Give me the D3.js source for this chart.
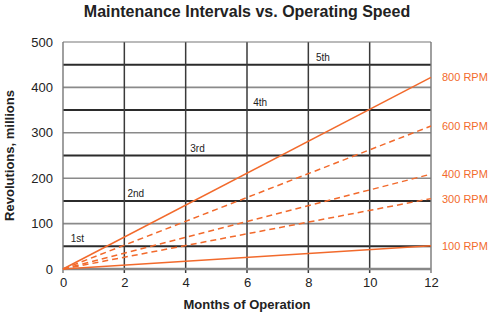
<!DOCTYPE html>
<html>
<head>
<meta charset="utf-8">
<script src="https://cdn.jsdelivr.net/npm/d3@7"></script>
<style>
  body { margin: 0; background: #fff; }
  text { font-family: "Liberation Sans", Arial, sans-serif; }
</style>
</head>
<body>
<div id="chart"></div>
<script>
// chart data
var speeds = ["100 RPM", "300 RPM", "400 RPM", "600 RPM", "800 RPM"];
var dashed = [false, true, true, true, false];
var revsAt12 = [51, 155, 209, 315, 422];   // millions of revolutions after 12 months
var xTicks = [0, 2, 4, 6, 8, 10, 12];
var yTicks = [0, 100, 200, 300, 400, 500];
var intervalLevels = [50, 150, 250, 350, 450];
var intervalNames = ["1st", "2nd", "3rd", "4th", "5th"];
var intervalLabelMonth = [0.25, 2.1, 4.15, 6.2, 8.25];

var svgWidth = 500;
var svgHeight = 322;
var margin = { top: 42, right: 69, bottom: 53, left: 63 };
var width = svgWidth - margin.left - margin.right;
var height = svgHeight - margin.top - margin.bottom;
var orange = "#f26a2c";

var svg = d3.select("#chart")
    .append("svg")
    .attr("width", svgWidth)
    .attr("height", svgHeight);

var chartGroup = svg.append("g")
    .attr("transform", `translate(${margin.left}, ${margin.top})`);

var x = d3.scaleLinear().domain([0, 12]).range([0, width]);
var y = d3.scaleLinear().domain([0, 500]).range([height, 0]);

// light horizontal grid at the hundreds
chartGroup.selectAll(".hgrid")
    .data([100, 200, 300, 400])
    .enter()
    .append("line")
    .attr("x1", 0).attr("x2", width)
    .attr("y1", d => y(d)).attr("y2", d => y(d))
    .attr("stroke", "#8a8a8a")
    .attr("stroke-width", 1.6);

// maintenance interval lines
chartGroup.selectAll(".interval")
    .data(intervalLevels)
    .enter()
    .append("line")
    .attr("x1", 0).attr("x2", width)
    .attr("y1", d => y(d)).attr("y2", d => y(d))
    .attr("stroke", "#2b2b2b")
    .attr("stroke-width", 2);

// vertical grid, extending a bit below the axis as ticks
chartGroup.selectAll(".vgrid")
    .data(xTicks.slice(1, -1))
    .enter()
    .append("line")
    .attr("x1", d => x(d)).attr("x2", d => x(d))
    .attr("y1", 0).attr("y2", height + 4)
    .attr("stroke", "#3a3a3a")
    .attr("stroke-width", 1.5);

// frame
chartGroup.append("line")
    .attr("x1", 0).attr("x2", width).attr("y1", y(500)).attr("y2", y(500))
    .attr("stroke", "#777").attr("stroke-width", 1.2);
chartGroup.append("line")
    .attr("x1", x(12)).attr("x2", x(12)).attr("y1", 0).attr("y2", height + 4)
    .attr("stroke", "#777").attr("stroke-width", 1.4);
chartGroup.append("line")
    .attr("x1", x(0)).attr("x2", x(0)).attr("y1", 0).attr("y2", height + 4)
    .attr("stroke", "#777").attr("stroke-width", 1.4);
chartGroup.append("line")
    .attr("x1", 0).attr("x2", width).attr("y1", y(0)).attr("y2", y(0))
    .attr("stroke", "#888").attr("stroke-width", 2.5);

// axes (labels only)
var bottomAxis = d3.axisBottom(x).tickValues(xTicks).tickSize(0).tickPadding(9);
var leftAxis = d3.axisLeft(y).tickValues(yTicks).tickSize(0).tickPadding(10);

var gx = chartGroup.append("g")
    .attr("transform", `translate(0, ${height})`)
    .call(bottomAxis);
var gy = chartGroup.append("g").call(leftAxis);
[gx, gy].forEach(function (g) {
    g.select(".domain").remove();
    g.selectAll("text")
        .attr("font-size", 13)
        .attr("fill", "#222")
        .style("font-family", "'Liberation Sans', Arial, sans-serif");
});

// interval labels
chartGroup.selectAll(".intLabel")
    .data(intervalNames)
    .enter()
    .append("text")
    .attr("x", (d, i) => x(intervalLabelMonth[i]))
    .attr("y", (d, i) => y(intervalLevels[i]) - 4)
    .attr("font-size", 10)
    .attr("fill", "#222")
    .text(d => d);

// speed lines
var line = d3.line().x(d => x(d[0])).y(d => y(d[1]));
chartGroup.selectAll(".speed")
    .data(revsAt12)
    .enter()
    .append("path")
    .attr("d", d => line([[0, 0], [12, d]]))
    .attr("fill", "none")
    .attr("stroke", orange)
    .attr("stroke-width", 1.5)
    .attr("stroke-dasharray", (d, i) => dashed[i] ? "6,4" : null);

chartGroup.selectAll(".speedLabel")
    .data(speeds)
    .enter()
    .append("text")
    .attr("x", width + 11)
    .attr("y", (d, i) => y(revsAt12[i]) + 4)
    .attr("font-size", 11)
    .attr("fill", orange)
    .text(d => d);

// titles
svg.append("text")
    .attr("x", 247).attr("y", 17)
    .attr("text-anchor", "middle")
    .attr("font-size", 16)
    .attr("font-weight", "bold")
    .attr("fill", "#222")
    .text("Maintenance Intervals vs. Operating Speed");

svg.append("text")
    .attr("x", margin.left + width / 2).attr("y", 309)
    .attr("text-anchor", "middle")
    .attr("font-size", 13)
    .attr("font-weight", "bold")
    .attr("fill", "#222")
    .text("Months of Operation");

svg.append("text")
    .attr("transform", `translate(14, ${margin.top + height / 2}) rotate(-90)`)
    .attr("text-anchor", "middle")
    .attr("font-size", 13)
    .attr("font-weight", "bold")
    .attr("fill", "#222")
    .text("Revolutions, millions");
</script>
</body>
</html>
